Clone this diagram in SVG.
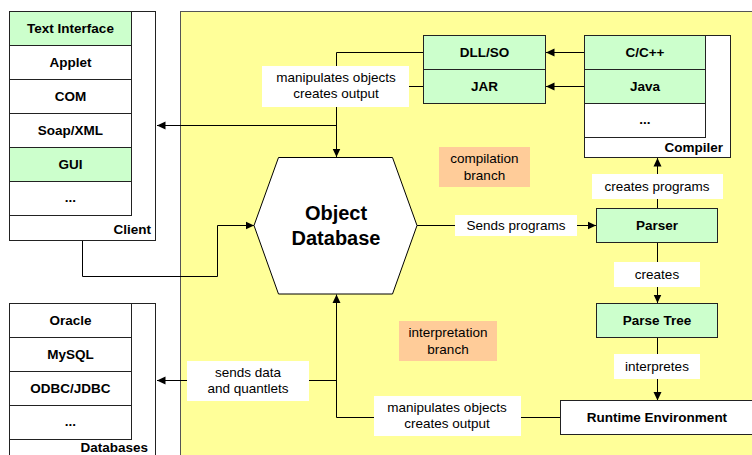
<svg xmlns="http://www.w3.org/2000/svg" width="752" height="455" viewBox="0 0 752 455">
<style>
text{font-family:"Liberation Sans",Arial,sans-serif;fill:#000}
.b{font-weight:bold;font-size:13.5px;text-anchor:middle}
.r{font-size:13.5px;text-anchor:middle}
.cell{stroke:#222;stroke-width:1}
.g{fill:#ccffcc}
.w{fill:#fff}
.lab{fill:#fff;stroke:none}
.br{fill:#ffcc99;stroke:none}
.c{fill:none;stroke:#000;stroke-width:1}
</style>
<defs>
<marker id="ah" markerUnits="userSpaceOnUse" markerWidth="9" markerHeight="9" refX="8.5" refY="4.5" orient="auto">
<path d="M0,0.5 L8.5,4.5 L0,8.5 z" fill="#000"/>
</marker>
</defs>
<rect width="752" height="455" fill="#fff"/>
<rect id="area" x="180.5" y="11.5" width="600" height="460" fill="#ffff99" stroke="#555" stroke-width="1"/>

<g id="connectors">
<polyline class="c" points="423,52.5 336.5,52.5 336.5,157" marker-end="url(#ah)"/>
<polyline class="c" points="423,86.5 336.5,86.5"/>
<polyline class="c" points="336.5,125.5 157,125.5" marker-end="url(#ah)"/>
<polyline class="c" points="584,52.5 546,52.5" marker-end="url(#ah)"/>
<polyline class="c" points="584,86.5 546,86.5" marker-end="url(#ah)"/>
<polyline class="c" points="657.5,208.5 657.5,158" marker-end="url(#ah)"/>
<polyline class="c" points="417,225.5 596,225.5" marker-end="url(#ah)"/>
<polyline class="c" points="657.5,242.5 657.5,303" marker-end="url(#ah)"/>
<polyline class="c" points="657.5,337.5 657.5,400.5" marker-end="url(#ah)"/>
<polyline class="c" points="560,417.5 336.5,417.5 336.5,294.5" marker-end="url(#ah)"/>
<polyline class="c" points="336.5,380.5 157,380.5" marker-end="url(#ah)"/>
<polyline class="c" points="82.5,240 82.5,276.5 217.5,276.5 217.5,225.5 254,225.5" marker-end="url(#ah)"/>
</g>

<g id="labels">
<rect class="lab" x="262" y="66" width="147" height="41"/>
<text class="r" x="336" y="82">manipulates objects</text>
<text class="r" x="336" y="98">creates output</text>
<rect class="lab" x="592" y="174" width="131" height="25"/>
<text class="r" x="657" y="191">creates programs</text>
<rect class="lab" x="455" y="215" width="122" height="21"/>
<text class="r" x="516" y="230">Sends programs</text>
<rect class="lab" x="614" y="262" width="86" height="25"/>
<text class="r" x="657" y="279">creates</text>
<rect class="lab" x="614" y="354" width="86" height="25"/>
<text class="r" x="657" y="371">interpretes</text>
<rect class="lab" x="187" y="361" width="122" height="40"/>
<text class="r" x="248" y="377">sends data</text>
<text class="r" x="248" y="393">and quantlets</text>
<rect class="lab" x="374" y="396" width="147" height="40"/>
<text class="r" x="447" y="412">manipulates objects</text>
<text class="r" x="447" y="428">creates output</text>
<rect class="br" x="439" y="147" width="91" height="40"/>
<text class="r" x="484.5" y="163">compilation</text>
<text class="r" x="484.5" y="180">branch</text>
<rect class="br" x="399" y="321" width="98" height="40"/>
<text class="r" x="448" y="337">interpretation</text>
<text class="r" x="448" y="354">branch</text>
</g>

<g id="client">
<rect class="cell w" x="9.5" y="11.5" width="146" height="229"/>
<rect class="cell g" x="9.5" y="11.5" width="122" height="34"/>
<rect class="cell w" x="9.5" y="45.5" width="122" height="34"/>
<rect class="cell w" x="9.5" y="79.5" width="122" height="34"/>
<rect class="cell w" x="9.5" y="113.5" width="122" height="34"/>
<rect class="cell g" x="9.5" y="147.5" width="122" height="34"/>
<rect class="cell w" x="9.5" y="181.5" width="122" height="34"/>
<text class="b" x="70.5" y="33">Text Interface</text>
<text class="b" x="70.5" y="67">Applet</text>
<text class="b" x="70.5" y="101">COM</text>
<text class="b" x="70.5" y="135">Soap/XML</text>
<text class="b" x="70.5" y="169">GUI</text>
<text class="b" x="70.5" y="202">...</text>
<text class="b" x="151" y="234" style="text-anchor:end">Client</text>
</g>

<g id="databases">
<rect class="cell w" x="9.5" y="303.5" width="146" height="160"/>
<rect class="cell w" x="9.5" y="303.5" width="122" height="34"/>
<rect class="cell w" x="9.5" y="337.5" width="122" height="34"/>
<rect class="cell w" x="9.5" y="371.5" width="122" height="34"/>
<rect class="cell w" x="9.5" y="405.5" width="122" height="34"/>
<text class="b" x="70.5" y="325">Oracle</text>
<text class="b" x="70.5" y="359">MySQL</text>
<text class="b" x="70.5" y="393">ODBC/JDBC</text>
<text class="b" x="70.5" y="426">...</text>
<text class="b" x="148" y="452" style="text-anchor:end">Databases</text>
</g>

<g id="odb">
<polygon points="278.5,157.5 392.5,157.5 417,225.5 392.5,294 278.5,294 254,225.5" fill="#fff" stroke="#000" stroke-width="1"/>
<text x="336" y="220" style="font-weight:bold;font-size:20px;text-anchor:middle">Object</text>
<text x="336" y="245" style="font-weight:bold;font-size:20px;text-anchor:middle">Database</text>
</g>

<g id="libs">
<rect class="cell g" x="423.5" y="35.5" width="122" height="34"/>
<rect class="cell g" x="423.5" y="69.5" width="122" height="34"/>
<text class="b" x="484.5" y="57">DLL/SO</text>
<text class="b" x="484.5" y="91">JAR</text>
</g>

<g id="compiler">
<rect class="cell w" x="584.5" y="35.5" width="146" height="122"/>
<rect class="cell g" x="584.5" y="35.5" width="121" height="34"/>
<rect class="cell g" x="584.5" y="69.5" width="121" height="34"/>
<rect class="cell w" x="584.5" y="103.5" width="121" height="34"/>
<text class="b" x="645" y="57">C/C++</text>
<text class="b" x="645" y="91">Java</text>
<text class="b" x="645" y="124">...</text>
<text class="b" x="723" y="152" style="text-anchor:end">Compiler</text>
</g>

<g id="parser">
<rect class="cell g" x="596.5" y="208.5" width="121" height="34"/>
<text class="b" x="657" y="230">Parser</text>
</g>
<g id="parsetree">
<rect class="cell g" x="596.5" y="303.5" width="121" height="34"/>
<text class="b" x="657" y="325">Parse Tree</text>
</g>
<g id="runtime">
<rect class="cell w" x="560.5" y="400.5" width="194" height="34"/>
<text class="b" x="657" y="422">Runtime Environment</text>
</g>
</svg>
